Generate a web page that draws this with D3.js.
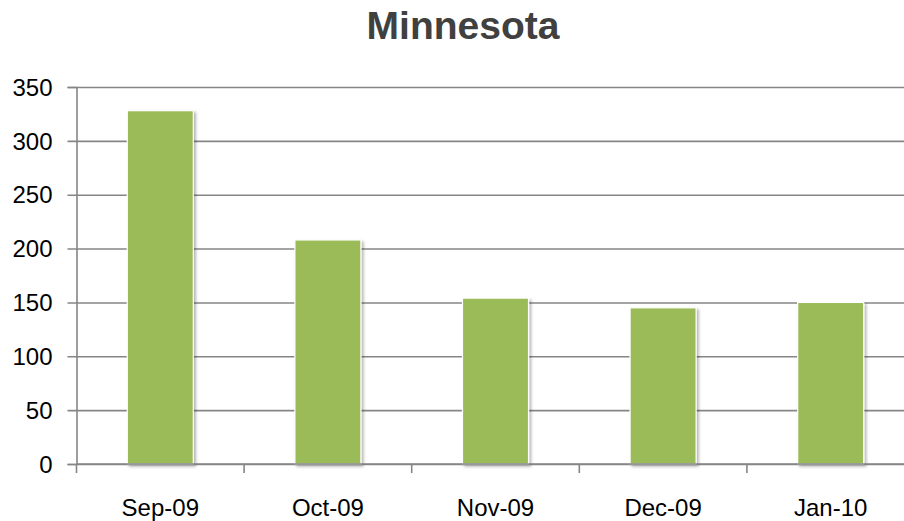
<!DOCTYPE html>
<html>
<head>
<meta charset="utf-8">
<script src="https://cdn.jsdelivr.net/npm/d3@7"></script>
<style>
  body { margin: 0; background: #fff; }
  svg { display: block; }
</style>
</head>
<body>
<svg id="chart" width="904" height="521"></svg>
<script>
// values
const months = ["Sep-09", "Oct-09", "Nov-09", "Dec-09", "Jan-10"];
const counts = [328, 208, 154, 145, 150];
const yTicks = [0, 50, 100, 150, 200, 250, 300, 350];

const svg = d3.select("#chart");
const font = "'Liberation Sans', Arial, sans-serif";

const margin = { top: 87, left: 76.5 };
const plotW = 838; // runs past the right edge, as in the picture
const plotH = 377;

const x = d3.scaleBand()
  .domain(months)
  .range([0, plotW])
  .paddingInner(0.606)
  .paddingOuter(0.303);

const y = d3.scaleLinear()
  .domain([0, 350])
  .range([plotH, 0]);

const defs = svg.append("defs");
defs.append("filter")
  .attr("id", "shadow")
  .attr("x", "-20%").attr("y", "-5%")
  .attr("width", "150%").attr("height", "120%")
  .append("feDropShadow")
  .attr("dx", 2).attr("dy", 2)
  .attr("stdDeviation", 1.6)
  .attr("flood-color", "#000")
  .attr("flood-opacity", 0.3);

// title
svg.append("text")
  .attr("x", 463)
  .attr("y", 39)
  .attr("text-anchor", "middle")
  .style("font-family", font)
  .style("font-weight", "bold")
  .style("font-size", "39px")
  .style("fill", "#404040")
  .text("Minnesota");

const g = svg.append("g")
  .attr("transform", `translate(${margin.left},${margin.top})`);

// horizontal gridlines + y axis
const yAxis = g.append("g")
  .call(d3.axisLeft(y).tickValues(yTicks).tickSize(9).tickPadding(15).tickFormat(d3.format("d")));
yAxis.select(".domain").attr("stroke", "#868686").attr("stroke-width", 1.6);
yAxis.selectAll(".tick line").attr("stroke", "#868686").attr("stroke-width", 1.6)
  .attr("x1", plotW).attr("x2", -9);
yAxis.selectAll(".tick text")
  .style("font-family", font)
  .style("font-size", "24px")
  .style("fill", "#000")
  .attr("dy", "0.34em");

// bars
g.selectAll("rect.bar")
  .data(months.map((m, i) => ({ m, v: counts[i] })))
  .enter()
  .append("rect")
  .attr("class", "bar")
  .attr("x", d => x(d.m))
  .attr("y", d => y(d.v))
  .attr("width", x.bandwidth())
  .attr("height", d => y(0) - y(d.v))
  .attr("fill", "#9bbb59")
  .attr("stroke", "#fff")
  .attr("stroke-width", 1.2)
  .attr("filter", "url(#shadow)");

// x axis with ticks between categories
const bounds = months.map((m, i) => x.step() * i).concat([x.step() * months.length]);
const xAxis = g.append("g").attr("transform", `translate(0,${plotH})`);
xAxis.append("line")
  .attr("x1", 0).attr("x2", plotW)
  .attr("stroke", "#868686").attr("stroke-width", 1.6);
xAxis.selectAll("line.tk")
  .data(bounds)
  .enter()
  .append("line")
  .attr("class", "tk")
  .attr("x1", d => d).attr("x2", d => d)
  .attr("y1", 0).attr("y2", 9)
  .attr("stroke", "#868686").attr("stroke-width", 1.6);
xAxis.selectAll("text")
  .data(months)
  .enter()
  .append("text")
  .attr("x", d => x(d) + x.bandwidth() / 2)
  .attr("y", 52)
  .attr("text-anchor", "middle")
  .style("font-family", font)
  .style("font-size", "24px")
  .style("fill", "#000")
  .text(d => d);
</script>
</body>
</html>
